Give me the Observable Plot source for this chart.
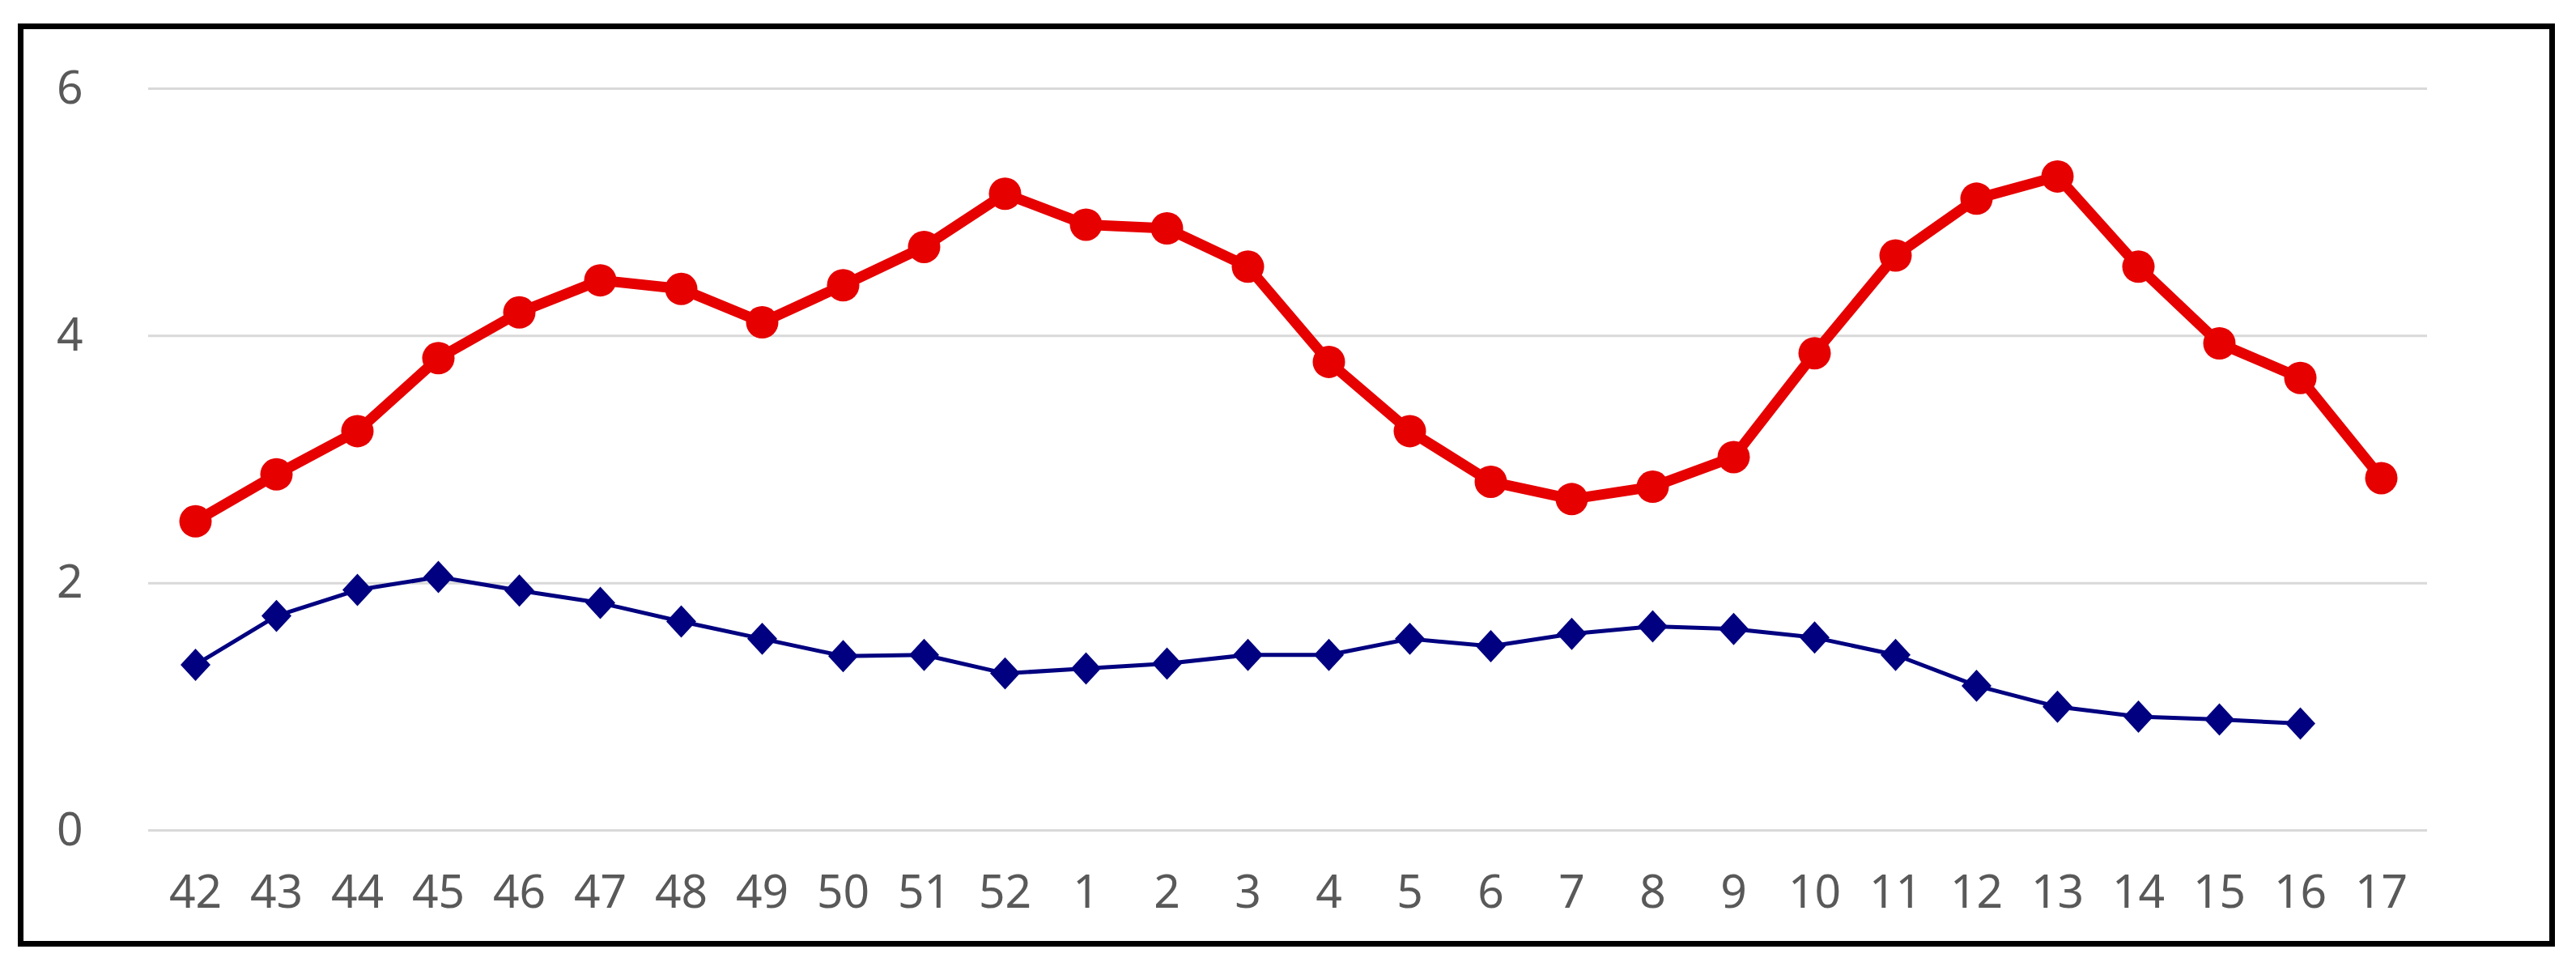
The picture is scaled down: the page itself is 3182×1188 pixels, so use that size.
<!DOCTYPE html>
<html>
<head>
<meta charset="utf-8">
<script src="https://cdn.jsdelivr.net/npm/d3@7"></script>
<script src="https://cdn.jsdelivr.net/npm/@observablehq/plot@0.6"></script>
<style>
  html, body { margin: 0; padding: 0; background: #fff; }
  #wrap { position: relative; width: 3182px; height: 1188px; overflow: hidden; }
  #frame { position: absolute; left: 22px; top: 29px; width: 3134px; height: 1140px; border: 7px solid #000; box-sizing: border-box; pointer-events: none; }
  #chart { position: absolute; left: 0; top: 0; }
</style>
</head>
<body>
<div id="wrap">
  <div id="chart"></div>
  <div id="frame"></div>
</div>
<script>
const weeks = ["42","43","44","45","46","47","48","49","50","51","52","1","2","3","4","5","6","7","8","9","10","11","12","13","14","15","16","17"];
const redValues = [2.50, 2.88, 3.23, 3.82, 4.19, 4.45, 4.38, 4.11, 4.41, 4.72, 5.15, 4.90, 4.87, 4.56, 3.79, 3.23, 2.82, 2.68, 2.78, 3.02, 3.86, 4.65, 5.11, 5.29, 4.56, 3.94, 3.66, 2.85];
const blueValues = [1.34, 1.735, 1.945, 2.05, 1.94, 1.84, 1.69, 1.55, 1.41, 1.42, 1.27, 1.31, 1.35, 1.42, 1.42, 1.55, 1.49, 1.59, 1.65, 1.63, 1.56, 1.42, 1.17, 1.00, 0.92, 0.897, 0.864, null];
const yTicks = [0, 2, 4, 6];

const data = weeks.map((w, i) => ({week: w, red: redValues[i], blue: blueValues[i]}));
const blueData = data.filter(d => d.blue != null);

const tallDiamond = {
  draw(context, size) {
    const r = Math.sqrt(size / Math.PI);
    context.moveTo(0, -r * 1.08);
    context.lineTo(r, 0);
    context.lineTo(0, r * 1.08);
    context.lineTo(-r, 0);
    context.closePath();
  }
};

const chart = Plot.plot({
  width: 3182,
  height: 1188,
  marginLeft: 183,
  marginRight: 184,
  marginTop: 109,
  marginBottom: 163,
  style: {fontSize: "57px", fontFamily: "'Noto Sans', 'Open Sans', sans-serif", color: "#595959", background: "transparent"},
  x: {type: "band", domain: weeks, padding: 0, label: null},
  y: {domain: [0, 6], label: null},
  marks: [
    Plot.ruleY(yTicks, {stroke: "#d9d9d9", strokeWidth: 3}),
    Plot.axisY({ticks: yTicks, tickFormat: d => String(d), tickSize: 0, tickPadding: 81, label: null, fontSize: 57}),
    Plot.axisX({tickSize: 0, tickPadding: 55, label: null, fontSize: 57}),
    Plot.line(blueData, {x: "week", y: "blue", stroke: "#000080", strokeWidth: 5}),
    Plot.dot(blueData, {x: "week", y: "blue", r: 18.5, symbol: tallDiamond, fill: "#000080", stroke: "none"}),
    Plot.line(data, {x: "week", y: "red", stroke: "#e60000", strokeWidth: 13, strokeLinejoin: "round", strokeLinecap: "round"}),
    Plot.dot(data, {x: "week", y: "red", r: 20, fill: "#e60000", stroke: "none"})
  ]
});
document.getElementById("chart").appendChild(chart);
</script>
</body>
</html>
